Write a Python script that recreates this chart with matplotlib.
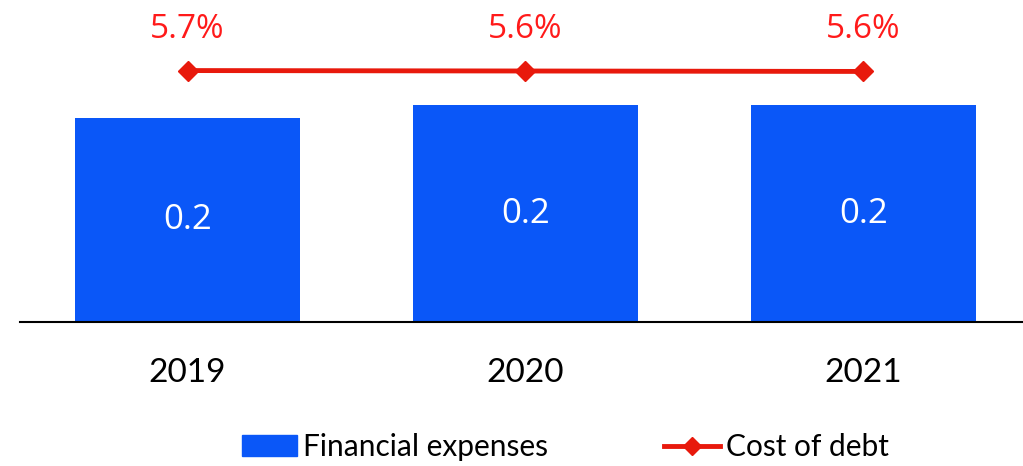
import matplotlib.pyplot as plt
from matplotlib.lines import Line2D
from matplotlib.patches import Patch

years = ["2019", "2020", "2021"]
fin_exp = [0.188, 0.2, 0.2]
cost_debt = [5.65, 5.64, 5.63]

bar_col = "#0A57F8"
line_col = "#E8190C"

fig = plt.figure(figsize=(10.23, 4.66), dpi=100)
ax = fig.add_axes([20 / 1023, 144 / 466, 1003 / 1023, 322 / 466])
x = range(len(years))
bars = ax.bar(x, fin_exp, width=0.666, color=bar_col, zorder=2)
for b, v in zip(bars, fin_exp):
    ax.text(b.get_x() + b.get_width() / 2, v / 2, f"{v:.1f}", ha="center", va="center",
            color="white", fontsize=25, family="Open Sans")
ax.set_xlim(-0.4956, 2.472)
ax.set_ylim(0, 0.2968)
for s in ["top", "right", "left"]:
    ax.spines[s].set_visible(False)
ax.spines["bottom"].set_linewidth(1.5)
ax.set_yticks([])
ax.set_xticks(list(x))
ax.set_xticklabels(years, fontsize=24, family="Lato")
ax.tick_params(axis="x", length=0, pad=26)

# cost of debt on its own scale
ax2 = ax.twinx()
ax2.plot(x, cost_debt, color=line_col, lw=3.5, marker="D", markersize=10, zorder=3)
ax2.set_ylim(0, 5.64 / 0.7795)
ax2.axis("off")
for i, v in zip(x, cost_debt):
    ax2.annotate(f"{v:.1f}%", (i, v), xytext=(0, 18), textcoords="offset points",
                 ha="center", va="bottom", color="#FF1A1A", fontsize=24, family="Open Sans")

handles = [Patch(color=bar_col, label="Financial expenses"),
           Line2D([], [], color=line_col, lw=3.5, marker="D", markersize=9, label="Cost of debt")]
fig.legend(handles=handles, loc="center", bbox_to_anchor=(565 / 1023, 1 - 447 / 466), ncol=2,
           frameon=False, prop={"family": "Lato", "size": 21.5}, handlelength=1.85,
           handleheight=0.7, handletextpad=0.2, columnspacing=3.9)

fig.savefig("out.png", dpi=100)
